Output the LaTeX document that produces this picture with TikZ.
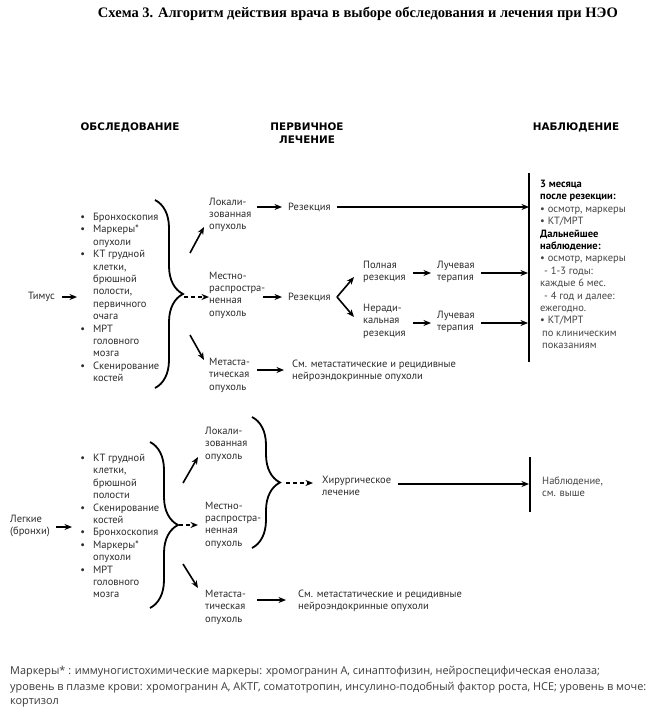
\documentclass[tikz,border=0pt]{standalone}
\usepackage{fontspec}
\setmainfont{PT Sans}
\newfontfamily\titlefont{Liberation Serif}
\newfontfamily\headfont{DejaVu Sans}
\newfontfamily\footfont{Open Sans}
\usetikzlibrary{arrows.meta,decorations.pathreplacing}
\definecolor{txtc}{HTML}{2B2B2B}
\definecolor{obsc}{HTML}{444444}
\definecolor{footc}{HTML}{3A3A3A}
\newcommand{\bul}{\makebox[0pt][r]{\textbullet\hspace{8pt}}}
\tikzset{
  txt/.style={anchor=west, align=left, inner sep=0pt, font=\fontsize{10.5}{12.4}\selectfont, text=txtc},
  obs/.style={txt, text=obsc},
  foot/.style={anchor=west, inner sep=0pt, font=\footfont\fontsize{10.9}{12}\selectfont, text=footc},
  arr/.style={line width=1.6pt, -{Stealth[length=7.5pt,width=6pt]}},
  darr/.style={arr, dash pattern=on 4pt off 3pt},
  brc/.style={decorate, decoration={brace, amplitude=28pt}, line width=1.8pt},
  bar/.style={line width=2pt},
  head/.style={font=\headfont\bfseries\fontsize{10.4}{12.5}\selectfont, align=center, inner sep=0pt},
}
\begin{document}
\begin{tikzpicture}[x=1pt,y=-1pt]
\useasboundingbox[fill=white] (0,0) rectangle (658,719);
% title
\node[font=\titlefont\bfseries\fontsize{14.5}{16}\selectfont, inner sep=0pt] (title) at (358,14) {Схема 3. Алгоритм действия врача в выборе обследования и лечения при НЭО};
% headers
\node[head] (h1) at (130,127) {ОБСЛЕДОВАНИЕ};
\node[head] (h2) at (307,133) {ПЕРВИЧНОЕ\\ЛЕЧЕНИЕ};
\node[head] (h3) at (576,127) {НАБЛЮДЕНИЕ};

% ---------- upper block ----------
\node[txt] (tim) at (28,297) {Тимус};
\node[txt] (list1) at (93,297.5) {\bul Бронхоскопия\\\bul Маркеры*\\опухоли\\\bul КТ грудной\\клетки,\\брюшной\\полости,\\первичного\\очага\\\bul МРТ\\головного\\мозга\\\bul Скенирование\\костей};
\coordinate (l1in) at (77,297);
\draw[arr] (tim.east) ++(7,0) -- (l1in);
\draw[brc] (155,200) -- (155,388);
\coordinate (b1tip) at (184,297);

\node[txt] (loc1) at (209,215) {Локали-\\зованная\\опухоль};
\node[txt] (mes1) at (209,295) {Местно-\\распростра-\\ненная\\опухоль};
\node[txt] (met1) at (209,375) {Метаста-\\тическая\\опухоль};
\draw[darr] (b1tip) -- (mes1.west |- b1tip);
\draw[arr] (190,253) -- (204,227);
\draw[arr] (190,335) -- (204,360);

\node[txt] (rez1) at (288,207) {Резекция};
\node[txt] (rez2) at (288,297) {Резекция};
\draw[arr] (257,207) -- ([xshift=-6pt]rez1.west);
\draw[arr] (263,297) -- ([xshift=-6pt]rez2.west);

\node[txt] (pol) at (363,272) {Полная\\резекция};
\node[txt] (ner) at (363,321) {Неради-\\кальная\\резекция};
\coordinate (fork) at (337,297);
\draw[arr] (fork) -- (354,277);
\draw[arr] (fork) -- (354,317);

\node[txt] (lt1) at (437,272) {Лучевая\\терапия};
\node[txt] (lt2) at (437,322) {Лучевая\\терапия};
\draw[arr] (413,273) -- (431,273);
\draw[arr] (413,323) -- (431,323);

\coordinate (bar1t) at (529,173);
\coordinate (bar1b) at (529,362);
\draw[bar] (bar1t) -- (bar1b);
\draw[arr] (rez1.east) ++(6,0) -- (bar1t |- rez1);
\draw[arr] (lt1.east) ++(6,1) -- (528,273);
\draw[arr] (lt2.east) ++(6,1) -- (528,323);

\node[obs] (obs1) at (540,264.5) {\textcolor{black}{\textbf{3 месяца}}\\\textcolor{black}{\textbf{после резекции:}}\\• осмотр, маркеры\\• КТ/МРТ\\\textcolor{black}{\textbf{Дальнейшее}}\\\textcolor{black}{\textbf{наблюдение:}}\\• осмотр, маркеры\\\hspace{4pt}- 1-3 годы:\\каждые 6 мес.\\\hspace{4pt}- 4 год и далее:\\ежегодно.\\• КТ/МРТ\\\hspace{2pt}по клиническим\\\hspace{2pt}показаниям};

\node[txt] (see1) at (292,371) {См. метастатические и рецидивные\\нейроэндокринные опухоли};
\draw[arr] (257,370) -- (284,370);

% ---------- lower block ----------
\node[txt] (lung) at (10,526) {Легкие\\(бронхи)};
\node[txt] (list2) at (93,526) {\bul КТ грудной\\клетки,\\брюшной\\полости\\\bul Скенирование\\костей\\\bul Бронхоскопия\\\bul Маркеры*\\опухоли\\\bul МРТ\\головного\\мозга};
\coordinate (l2in) at (72,527);
\draw[arr] (lung.east) ++(6,1) -- (l2in);
\draw[brc] (150,442) -- (150,608);
\coordinate (b2tip) at (179,525);

\node[txt] (loc2) at (205,444) {Локали-\\зованная\\опухоль};
\node[txt] (mes2) at (205,525) {Местно-\\распростра-\\ненная\\опухоль};
\node[txt] (met2) at (205,607) {Метаста-\\тическая\\опухоль};
\draw[darr] (b2tip) -- (198,525);
\draw[arr] (183,483) -- (198,457);
\draw[arr] (183,564) -- (198,588);

\draw[brc] (252,417) -- (252,548);
\coordinate (b3tip) at (286,483);
\node[txt] (hir) at (322,486) {Хирургическое\\лечение};
\draw[darr] (b3tip) -- (313,483);

\coordinate (bar2t) at (530,457);
\coordinate (bar2b) at (530,512);
\draw[bar] (bar2t) -- (bar2b);
\draw[arr] (398,484) -- (529,484);
\node[obs] (obs2) at (542,487) {Наблюдение,\\см. выше};

\node[txt] (see2) at (298,601) {См. метастатические и рецидивные\\нейроэндокринные опухоли};
\draw[arr] (257,600) -- (286,600);

% ---------- footer ----------
\node[foot] (f1) at (10,672) {Маркеры* : иммуногистохимические маркеры: хромогранин А, синаптофизин, нейроспецифическая енолаза;};
\node[foot] (f2) at (10,688) {уровень в плазме крови: хромогранин А, АКТГ, соматотропин, инсулино-подобный фактор роста, НСЕ; уровень в моче:};
\node[foot] (f3) at (10,703) {кортизол};
\end{tikzpicture}
\end{document}
